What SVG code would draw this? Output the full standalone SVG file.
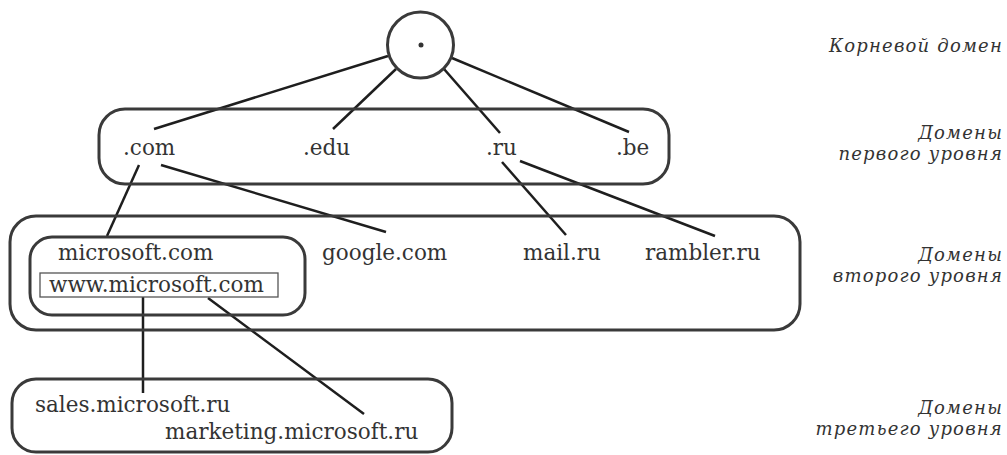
<svg xmlns="http://www.w3.org/2000/svg" width="1007" height="455" viewBox="0 0 1007 455">
<style>
.box{fill:none;stroke:#3a3a3a;stroke-width:3}
.thin{fill:none;stroke:#555;stroke-width:1.3}
.edge{stroke:#1e1e1e;stroke-width:2.5;fill:none}
.lbl{font-family:"DejaVu Serif","Liberation Serif",serif;font-size:21.5px;fill:#333}
.side{font-family:"DejaVu Serif","Liberation Serif",serif;font-style:italic;font-size:18px;letter-spacing:1.2px;fill:#333;text-anchor:end}
</style>
<rect width="1007" height="455" fill="#fff"/>
<g id="connectors">
<line class="edge" x1="388" y1="56" x2="154" y2="129"/>
<line class="edge" x1="396" y1="69" x2="333" y2="129"/>
<line class="edge" x1="444" y1="69" x2="500" y2="133"/>
<line class="edge" x1="452" y1="58" x2="629" y2="132"/>
<line class="edge" x1="139" y1="165" x2="107" y2="236"/>
<line class="edge" x1="161" y1="165" x2="386" y2="232"/>
<line class="edge" x1="502" y1="162" x2="566" y2="235"/>
<line class="edge" x1="520" y1="161" x2="715" y2="236"/>
<line class="edge" x1="143" y1="297" x2="143" y2="393"/>
<line class="edge" x1="208" y1="298" x2="364" y2="414"/>
</g>
<g id="root">
<circle class="box" cx="420.5" cy="45" r="33"/>
<circle cx="421" cy="45" r="2.5" fill="#333"/>
</g>
<g id="level1">
<rect class="box" x="99" y="109" width="570" height="75" rx="26"/>
<text class="lbl" x="123" y="155">.com</text>
<text class="lbl" x="303" y="155">.edu</text>
<text class="lbl" x="486" y="155">.ru</text>
<text class="lbl" x="616" y="155">.be</text>
</g>
<g id="level2">
<rect class="box" x="10" y="216" width="790" height="114" rx="26"/>
<text class="lbl" x="322" y="260">google.com</text>
<text class="lbl" x="523" y="260">mail.ru</text>
<text class="lbl" x="645" y="260">rambler.ru</text>
</g>
<g id="microsoft">
<rect class="box" x="30" y="237" width="275" height="78" rx="22"/>
<text class="lbl" x="58" y="260">microsoft.com</text>
</g>
<g id="www">
<rect class="thin" x="40" y="273" width="238" height="24"/>
<text class="lbl" x="49" y="292">www.microsoft.com</text>
</g>
<g id="level3">
<rect class="box" x="12" y="379" width="440" height="73" rx="24"/>
<text class="lbl" x="35" y="412">sales.microsoft.ru</text>
<text class="lbl" x="165" y="439">marketing.microsoft.ru</text>
</g>
<g id="labels">
<text class="side" x="1003" y="52">Корневой домен</text>
<text class="side" x="1003" y="139">Домены</text>
<text class="side" x="1003" y="160">первого уровня</text>
<text class="side" x="1003" y="261">Домены</text>
<text class="side" x="1003" y="282">второго уровня</text>
<text class="side" x="1003" y="414">Домены</text>
<text class="side" x="1003" y="435">третьего уровня</text>
</g>
</svg>
